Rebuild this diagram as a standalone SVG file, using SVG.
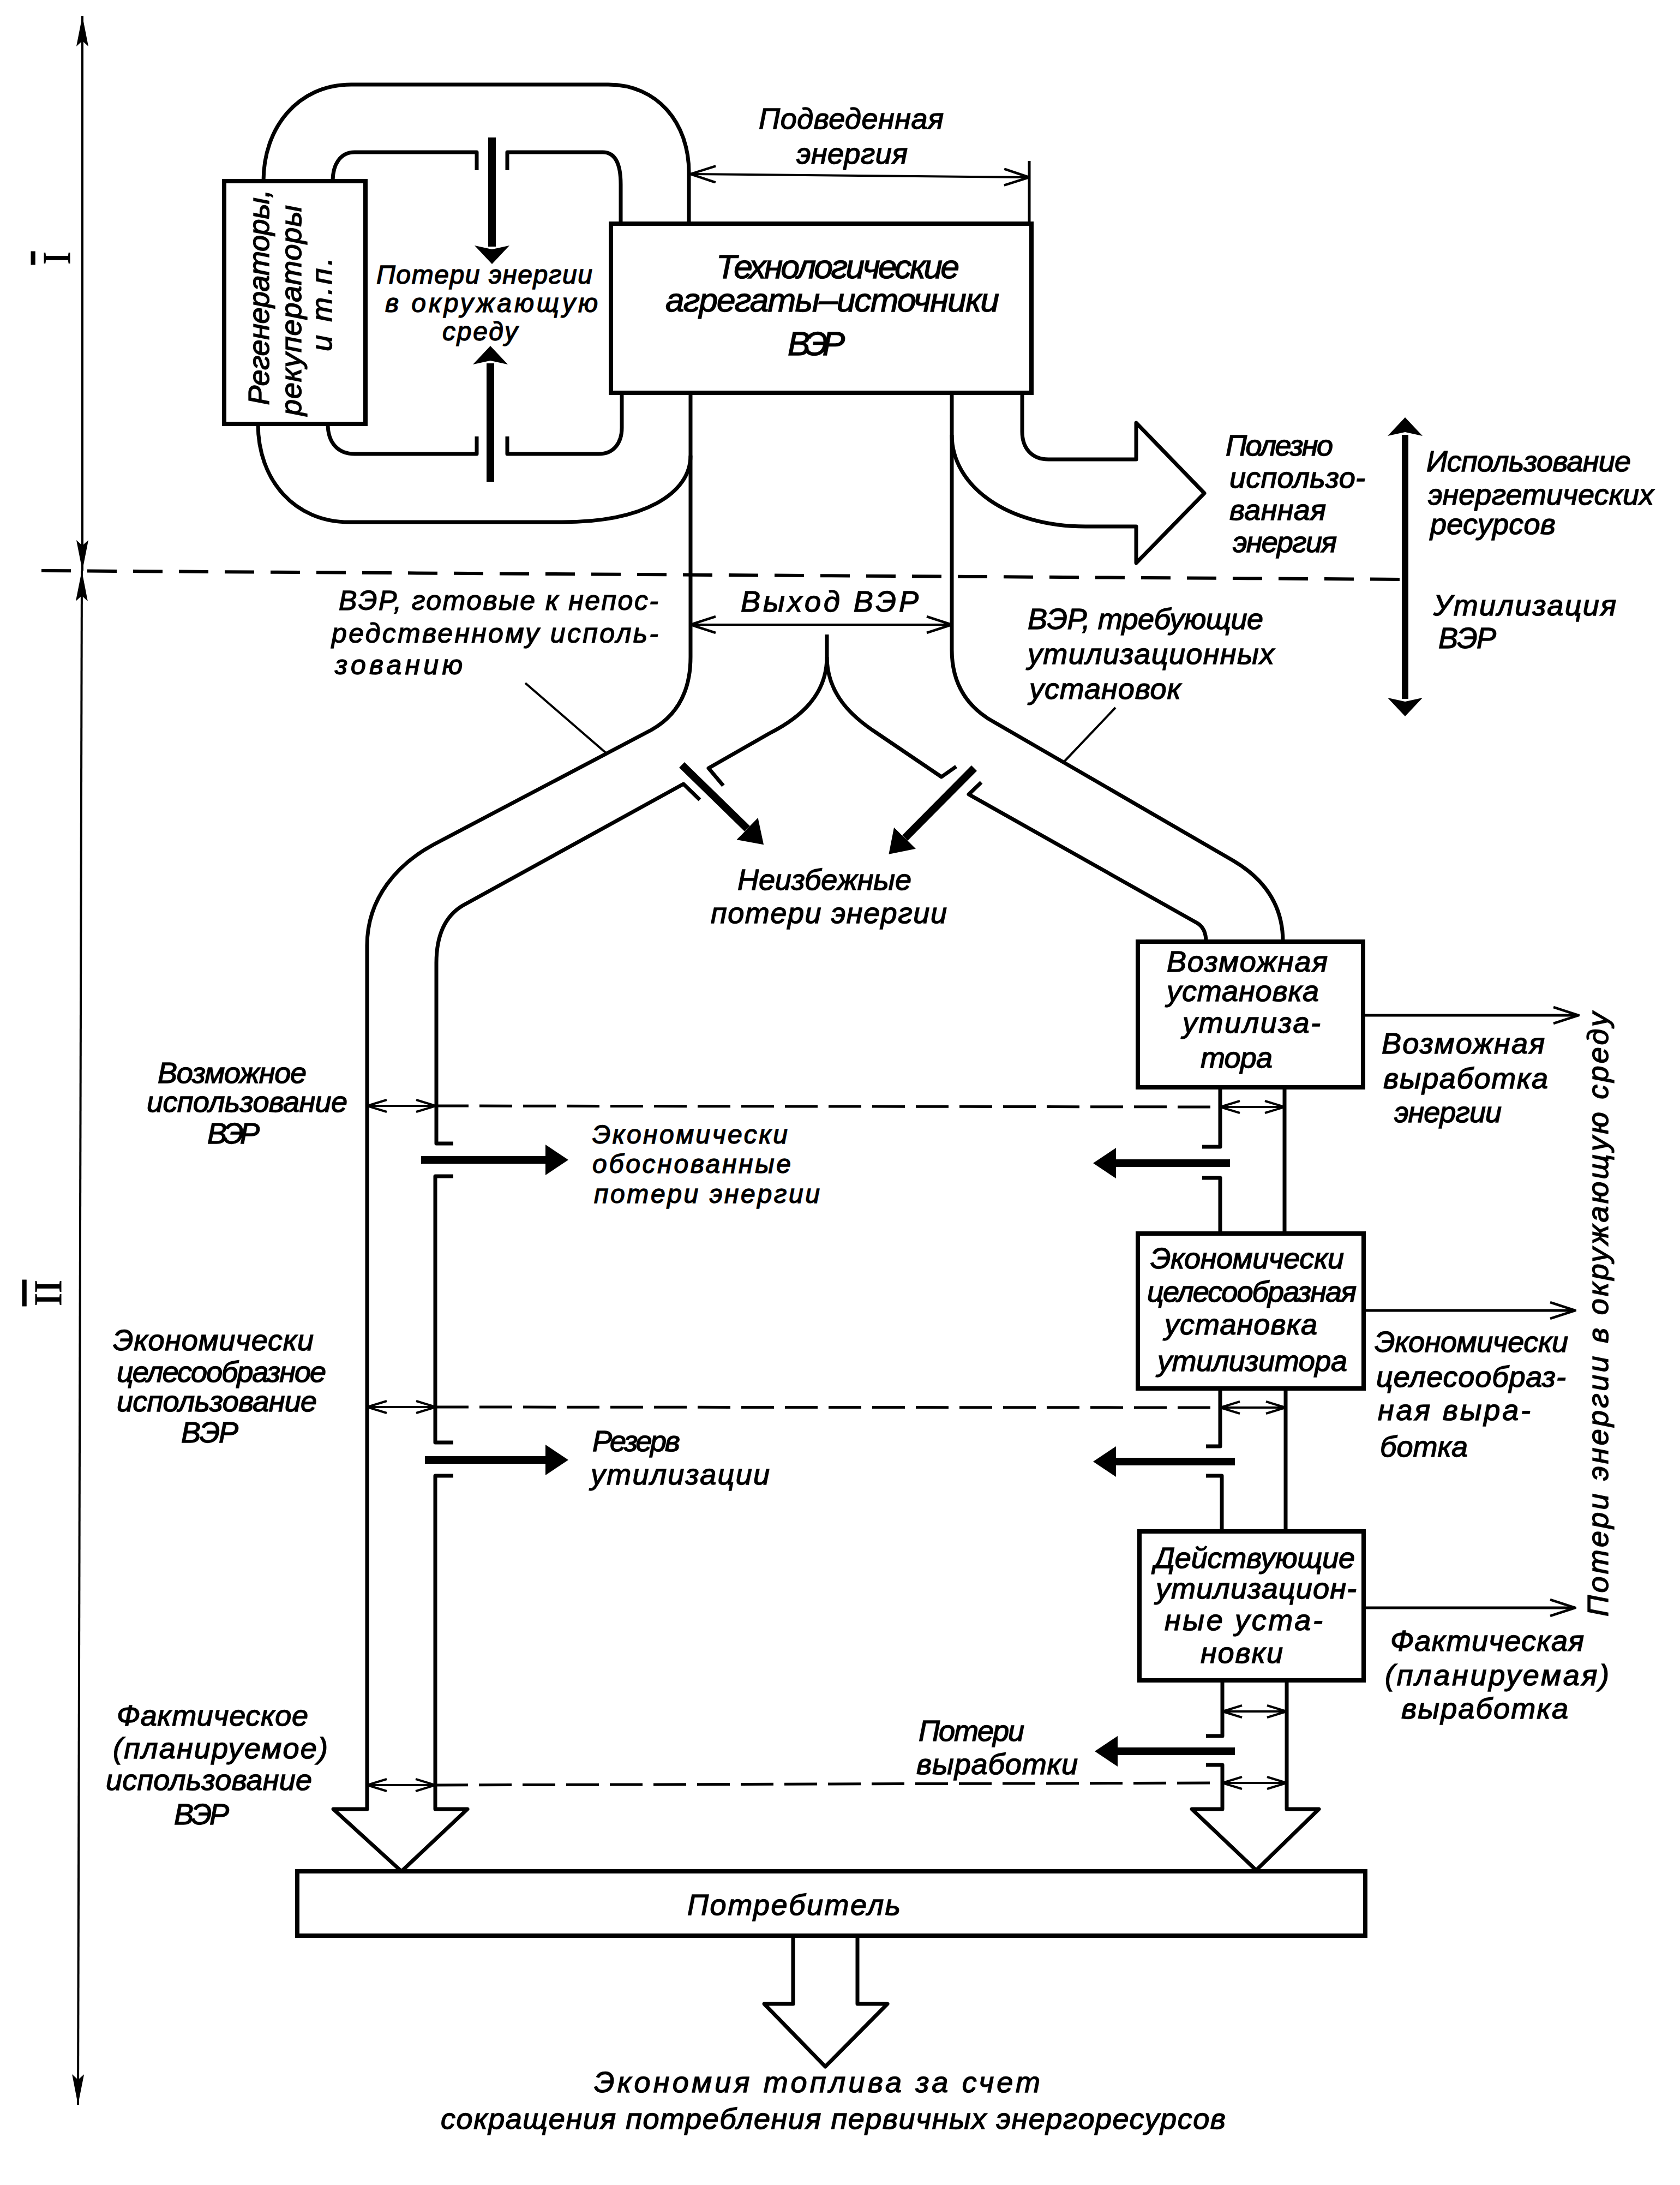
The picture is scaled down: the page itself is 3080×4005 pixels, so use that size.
<svg xmlns="http://www.w3.org/2000/svg" width="3080" height="4005" viewBox="0 0 3080 4005">
<style>
.o{fill:none;stroke:#000;stroke-width:7;stroke-linejoin:round}
.bx{fill:#fff;stroke:#000;stroke-width:8}
.tn{fill:none;stroke:#000;stroke-width:4}
.ar{fill:none;stroke:#000;stroke-width:5}
.dl{fill:none;stroke:#000;stroke-width:5;stroke-dasharray:60 20}
.dt{fill:none;stroke:#000;stroke-width:6;stroke-dasharray:54 30}
.k{fill:none;stroke:#000;stroke-width:14}
.kv{fill:none;stroke:#000;stroke-width:12}
text{font-family:"Liberation Sans","DejaVu Sans",sans-serif;font-style:italic;font-size:54px;fill:#000;stroke:#000;stroke-width:1.4}
.big{font-size:62px}
.sm{font-size:48px}
.md{font-size:50px}
.rn{font-family:"Liberation Serif","DejaVu Serif",serif;font-style:normal;font-size:72px;text-decoration:overline;stroke-width:1}
</style>
<defs>
<marker id="ch" viewBox="0 0 50 34" refX="48" refY="17" markerWidth="50" markerHeight="34" markerUnits="userSpaceOnUse" orient="auto-start-reverse"><path d="M2,2 L48,17 L2,32" fill="none" stroke="#000" stroke-width="4.5"/></marker>
<marker id="cs" viewBox="0 0 40 26" refX="38" refY="13" markerWidth="40" markerHeight="26" markerUnits="userSpaceOnUse" orient="auto-start-reverse"><path d="M2,2 L38,13 L2,24" fill="none" stroke="#000" stroke-width="4"/></marker>
<marker id="hk" viewBox="0 0 42 56" refX="0" refY="28" markerWidth="42" markerHeight="56" markerUnits="userSpaceOnUse" orient="auto"><path d="M0,0 L42,28 L0,56 Z" fill="#000"/></marker>
<marker id="hb" viewBox="0 0 34 64" refX="2" refY="32" markerWidth="34" markerHeight="64" markerUnits="userSpaceOnUse" orient="auto-start-reverse"><path d="M0,0 L34,32 L0,64 L7,32 Z" fill="#000"/></marker>
<marker id="dm" viewBox="0 0 56 22" refX="56" refY="11" markerWidth="56" markerHeight="22" markerUnits="userSpaceOnUse" orient="auto-start-reverse"><path d="M0,0 L56,11 L0,22 L10,11 Z" fill="#000"/></marker>
</defs>
<rect width="3080" height="4005" fill="#fff"/>

<g id="connectors">
<path class="tn" d="M151,1046 L151,29" marker-start="url(#dm)" marker-end="url(#dm)"/>
<path class="tn" d="M150,1046 L143,3858" marker-start="url(#dm)" marker-end="url(#dm)"/>
<path class="dt" d="M76,1046 L2572,1062"/>
<path class="o" d="M1263,410 L1263,316 C1263,225 1205,155 1115,155 L644,155 C545,155 483,235 483,332"/>
<path class="o" d="M473,777 C473,880 540,957 640,957 L1030,957 C1180,957 1266,905 1266,835"/>
<path class="o" d="M874,312 L874,279 L650,279 C625,279 610,300 610,332"/>
<path class="o" d="M930,312 L930,279 L1105,279 C1128,279 1138,300 1138,338 L1138,410"/>
<path class="o" d="M601,777 C601,812 620,832 650,832 L874,832 L874,800"/>
<path class="o" d="M930,800 L930,832 L1098,832 C1125,832 1140,812 1140,784 L1140,720"/>
<path class="k" d="M902,252 L902,452" marker-end="url(#hb)"/>
<path class="k" d="M899,883 L899,666" marker-end="url(#hb)"/>
<path class="ar" d="M1887,295 L1887,410"/>
<path class="tn" d="M1266,319 L1887,325" marker-start="url(#ch)" marker-end="url(#ch)"/>
<path class="o" d="M1874,720 L1874,791 C1874,822 1892,842 1922,842 L2083,842 L2083,775 L2208,904 L2083,1032 L2083,965 L1990,965 C1845,965 1745,890 1745,797"/>
<path class="kv" d="M2576,797 L2576,1281" marker-start="url(#hb)" marker-end="url(#hb)"/>
<path class="o" d="M1266,720 L1266,1204 C1266,1275 1235,1315 1194,1338 L795,1548 C730,1583 673,1645 673,1733 L673,3316 L611,3316 L736,3430 L857,3316 L798,3316 L798,2705 L831,2705"/>
<path class="o" d="M831,2644 L798,2644 L798,2156 L831,2156"/>
<path class="o" d="M831,2096 L800,2096 L800,1765 C800,1715 815,1680 848,1660 L1253,1437 L1283,1466"/>
<path class="o" d="M1516,1163 L1516,1204 C1516,1272 1470,1314 1411,1344 L1299,1408 L1326,1440"/>
<path class="o" d="M1516,1204 C1516,1272 1562,1314 1608,1344 L1726,1424 L1753,1405"/>
<path class="o" d="M1745,720 L1745,1191 C1745,1262 1782,1302 1825,1325 L2260,1577 C2318,1611 2352,1660 2352,1726"/>
<path class="o" d="M1799,1434 L1776,1456 L2195,1692 C2205,1698 2211,1710 2211,1726"/>
<path class="tn" d="M1266,1145 L1745,1145" marker-start="url(#ch)" marker-end="url(#ch)"/>
<path class="tn" d="M963,1252 L1112,1381"/>
<path class="tn" d="M2045,1297 L1950,1397"/>
<path class="k" d="M1250,1402 L1370,1519" marker-end="url(#hk)"/>
<path class="k" d="M1786,1408 L1659,1536" marker-end="url(#hk)"/>
<path class="o" d="M2237,1993 L2237,2102 L2204,2102"/>
<path class="o" d="M2204,2159 L2237,2159 L2237,2261"/>
<path class="o" d="M2355,1993 L2355,2261"/>
<path class="o" d="M2237,2545 L2237,2651 L2211,2651"/>
<path class="o" d="M2211,2705 L2240,2705 L2240,2807"/>
<path class="o" d="M2357,2545 L2357,2807"/>
<path class="o" d="M2241,3080 L2241,3182 L2211,3182"/>
<path class="o" d="M2211,3235 L2241,3235 L2241,3316 L2185,3316 L2303,3428 L2418,3316 L2359,3316 L2359,3080"/>
<path class="dl" d="M799,2027 L2237,2029"/>
<path class="dl" d="M799,2579 L2237,2580"/>
<path class="dl" d="M798,3272 L2241,3268"/>
<path class="tn" d="M673,2027 L799,2027" marker-start="url(#cs)" marker-end="url(#cs)"/>
<path class="tn" d="M673,2579 L799,2579" marker-start="url(#cs)" marker-end="url(#cs)"/>
<path class="tn" d="M673,3272 L798,3272" marker-start="url(#cs)" marker-end="url(#cs)"/>
<path class="tn" d="M2237,2029 L2355,2029" marker-start="url(#cs)" marker-end="url(#cs)"/>
<path class="tn" d="M2237,2580 L2357,2580" marker-start="url(#cs)" marker-end="url(#cs)"/>
<path class="tn" d="M2241,3137 L2359,3137" marker-start="url(#cs)" marker-end="url(#cs)"/>
<path class="tn" d="M2241,3268 L2359,3268" marker-start="url(#cs)" marker-end="url(#cs)"/>
<path class="k" d="M772,2126 L1000,2126" marker-end="url(#hk)"/>
<path class="k" d="M779,2676 L1000,2676" marker-end="url(#hk)"/>
<path class="k" d="M2255,2132 L2046,2132" marker-end="url(#hk)"/>
<path class="k" d="M2264,2679 L2046,2679" marker-end="url(#hk)"/>
<path class="k" d="M2264,3210 L2049,3210" marker-end="url(#hk)"/>
<path class="ar" d="M2499,1861 L2894,1861" marker-end="url(#ch)"/>
<path class="ar" d="M2500,2402 L2888,2402" marker-end="url(#ch)"/>
<path class="ar" d="M2500,2947 L2888,2947" marker-end="url(#ch)"/>
<path class="o" d="M1454,3548 L1454,3673 L1401,3673 L1513,3788 L1627,3673 L1572,3673 L1572,3548"/>
</g>

<g id="n-regen">
<rect class="bx" x="411" y="332" width="259" height="445"/>
<text transform="translate(493,545) rotate(-90)" text-anchor="middle" textLength="395">Регенераторы,</text>
<text transform="translate(552,569) rotate(-90)" text-anchor="middle" textLength="386">рекуператоры</text>
<text transform="translate(608,558) rotate(-90)" text-anchor="middle" textLength="172">и т.п.</text>
</g>

<g id="n-tech">
<rect class="bx" x="1120" y="410" width="771" height="310"/>
<text class="big" x="1313" y="510" textLength="446">Технологические</text>
<text class="big" x="1220" y="571" textLength="612">агрегаты–источники</text>
<text class="big" x="1444" y="651" textLength="105">ВЭР</text>
</g>

<g id="n-box1">
<rect class="bx" x="2086" y="1726" width="413" height="267"/>
<text x="2139" y="1781" textLength="295">Возможная</text>
<text x="2139" y="1835" textLength="279">установка</text>
<text x="2168" y="1893" textLength="253">утилиза-</text>
<text x="2201" y="1957" textLength="132">тора</text>
</g>

<g id="n-box2">
<rect class="bx" x="2086" y="2261" width="414" height="284"/>
<text x="2109" y="2325" textLength="355">Экономически</text>
<text x="2103" y="2386" textLength="384">целесообразная</text>
<text x="2135" y="2446" textLength="280">установка</text>
<text x="2122" y="2513" textLength="348">утилизитора</text>
</g>

<g id="n-box3">
<rect class="bx" x="2089" y="2807" width="411" height="273"/>
<text x="2116" y="2874" textLength="368">Действующие</text>
<text x="2119" y="2930" textLength="368">утилизацион-</text>
<text x="2135" y="2988" textLength="290">ные уста-</text>
<text x="2201" y="3048" textLength="151">новки</text>
</g>

<g id="n-consumer">
<rect class="bx" x="545" y="3430" width="1958" height="118"/>
<text x="1260" y="3510" textLength="391">Потребитель</text>
</g>

<g id="labels">
<text class="rn" transform="translate(128,473) rotate(-90)" text-anchor="middle">I</text>
<text class="rn" transform="translate(112,2370) rotate(-90)" text-anchor="middle">II</text>

<text x="1391" y="236" textLength="339">Подведенная</text>
<text x="1460" y="300" textLength="204">энергия</text>

<text class="sm" x="690" y="520" textLength="396">Потери энергии</text>
<text class="sm" x="706" y="572" textLength="390">в окружающую</text>
<text class="sm" x="811" y="624" textLength="138">среду</text>

<text x="2247" y="835" textLength="197">Полезно</text>
<text x="2254" y="894" textLength="249">использо-</text>
<text x="2254" y="953" textLength="177">ванная</text>
<text x="2260" y="1012" textLength="191">энергия</text>

<text x="2615" y="864" textLength="375">Использование</text>
<text x="2618" y="925" textLength="414">энергетических</text>
<text x="2622" y="979" textLength="230">ресурсов</text>

<text x="2628" y="1128" textLength="335">Утилизация</text>
<text x="2637" y="1188" textLength="106">ВЭР</text>

<text class="md" x="621" y="1118" textLength="586">ВЭР, готовые к непос-</text>
<text class="md" x="608" y="1178" textLength="599">редственному исполь-</text>
<text class="md" x="614" y="1236" textLength="234">зованию</text>

<text x="1358" y="1121" textLength="326">Выход  ВЭР</text>

<text x="1884" y="1153" textLength="432">ВЭР, требующие</text>
<text x="1884" y="1217" textLength="452">утилизационных</text>
<text x="1887" y="1281" textLength="278">установок</text>

<text x="1352" y="1631" textLength="319">Неизбежные</text>
<text x="1303" y="1692" textLength="433">потери энергии</text>

<text x="2533" y="1931" textLength="299">Возможная</text>
<text x="2536" y="1995" textLength="302">выработка</text>
<text x="2556" y="2057" textLength="197">энергии</text>

<text x="289" y="1985" textLength="273">Возможное</text>
<text x="269" y="2038" textLength="368">использование</text>
<text x="380" y="2096" textLength="96">ВЭР</text>

<text class="sm" x="1086" y="2096" textLength="358">Экономически</text>
<text class="sm" x="1086" y="2150" textLength="364">обоснованные</text>
<text class="sm" x="1089" y="2205" textLength="414">потери энергии</text>

<text x="2520" y="2478" textLength="355">Экономически</text>
<text x="2523" y="2542" textLength="348">целесообраз-</text>
<text x="2526" y="2603" textLength="280">ная выра-</text>
<text x="2530" y="2670" textLength="161">ботка</text>

<text x="207" y="2475" textLength="368">Экономически</text>
<text x="214" y="2533" textLength="384">целесообразное</text>
<text x="214" y="2587" textLength="367">использование</text>
<text x="332" y="2644" textLength="105">ВЭР</text>

<text x="1086" y="2660" textLength="161">Резерв</text>
<text x="1083" y="2721" textLength="328">утилизации</text>

<text x="2549" y="3026" textLength="355">Фактическая</text>
<text x="2539" y="3089" textLength="411">(планируемая)</text>
<text x="2569" y="3150" textLength="306">выработка</text>

<text x="1684" y="3191" textLength="194">Потери</text>
<text x="1680" y="3252" textLength="296">выработки</text>

<text x="214" y="3163" textLength="351">Фактическое</text>
<text x="207" y="3223" textLength="394">(планируемое)</text>
<text x="194" y="3281" textLength="378">использование</text>
<text x="319" y="3344" textLength="101">ВЭР</text>

<text x="1089" y="3835" textLength="818">Экономия топлива за счет</text>
<text x="808" y="3902" textLength="1439">сокращения потребления первичных энергоресурсов</text>

<text transform="translate(2948,2409) rotate(-90)" text-anchor="middle" textLength="1108">Потери энергии в окружающую среду</text>
</g>
</svg>
